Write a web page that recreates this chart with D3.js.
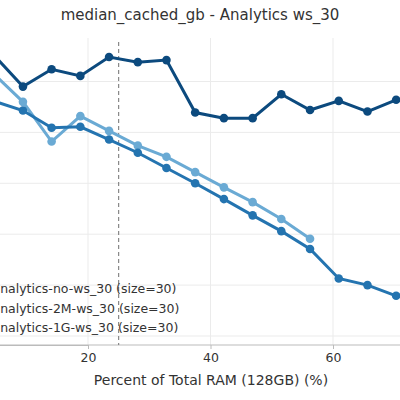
<!DOCTYPE html><html><head><meta charset="utf-8"><script src="https://cdn.jsdelivr.net/npm/d3@7"></script>
<style>body{margin:0;background:#fff}text{font-family:"DejaVu Sans",sans-serif}</style></head><body>
<svg id="c" width="400" height="400"></svg>
<script>
const xs = [4.69,9.38,14.06,18.75,23.44,28.13,32.81,37.5,42.19,46.88,51.56,56.25,60.94,65.63,70.31];
const darkVals = [5.51,4.90,5.24,5.11,5.48,5.38,5.42,4.39,4.28,4.28,4.75,4.44,4.62,4.41,4.64];
const midVals = [4.61,4.43,4.09,4.11,3.86,3.60,3.30,3.00,2.69,2.37,2.06,1.71,1.13,1.00,0.79];
const lightVals = [5.14,4.60,3.82,4.32,4.03,3.74,3.52,3.22,2.92,2.63,2.30,1.91];
const xTicks = [20,40,60];
const yGrid = [0,1,2,3,4,5];
const legendLabels = ["analytics-no-ws_30 (size=30)","analytics-2M-ws_30 (size=30)","analytics-1G-ws_30 (size=30)"];
const svg = d3.select("#c");
const x = d3.scaleLinear().domain([0,20]).range([-34.5,88]);
const y = d3.scaleLinear().domain([0,5]).range([336,81.5]);
const bottom = 345;
// grid
svg.append("g").selectAll("line").data(xTicks).join("line").attr("x1",d=>x(d)).attr("x2",d=>x(d)).attr("y1",38).attr("y2",bottom).attr("stroke","#ebebeb");
svg.append("g").selectAll("line").data(yGrid).join("line").attr("x1",0).attr("x2",400).attr("y1",d=>y(d)).attr("y2",d=>y(d)).attr("stroke","#ebebeb");
// axis
const ax = svg.append("g").attr("transform",`translate(0,${bottom})`).call(d3.axisBottom(x).tickValues(xTicks).tickSize(4).tickPadding(4));
ax.select(".domain").attr("stroke","#bbb");
ax.selectAll(".tick line").attr("stroke","#bbb");
ax.selectAll("text").attr("font-size",12.5).attr("fill","#333");
svg.append("line").attr("x1",0).attr("x2",400).attr("y1",bottom).attr("y2",bottom).attr("stroke","#bbb");
// vline
svg.append("line").attr("x1",x(25)).attr("x2",x(25)).attr("y1",42).attr("y2",bottom).attr("stroke","#888").attr("stroke-dasharray","4,3").attr("stroke-width",1.2);
const series = [{v:lightVals,c:"#6aaad4"},{v:midVals,c:"#2474b0"},{v:darkVals,c:"#0c4a7e"}];
const line = d3.line().x(d=>x(d[0])).y(d=>y(d[1]));
series.forEach(s=>{
  const pts = s.v.map((v,i)=>[xs[i],v]);
  svg.append("path").attr("d",line(pts)).attr("fill","none").attr("stroke",s.c).attr("stroke-width",3);
  svg.append("g").selectAll("circle").data(pts).join("circle").attr("cx",d=>x(d[0])).attr("cy",d=>y(d[1])).attr("r",4.3).attr("fill",s.c);
});
svg.append("g").selectAll("text").data(legendLabels).join("text").attr("x",-7.5).attr("y",(d,i)=>293+i*19.5).attr("font-size",12.5).attr("fill","#333").text(d=>d);
svg.append("text").attr("x",200).attr("y",20).attr("text-anchor","middle").attr("font-size",15).attr("fill","#333").text("median_cached_gb - Analytics ws_30");
svg.append("text").attr("x",211).attr("y",385).attr("text-anchor","middle").attr("font-size",14).attr("fill","#333").text("Percent of Total RAM (128GB) (%)");
</script></body></html>
